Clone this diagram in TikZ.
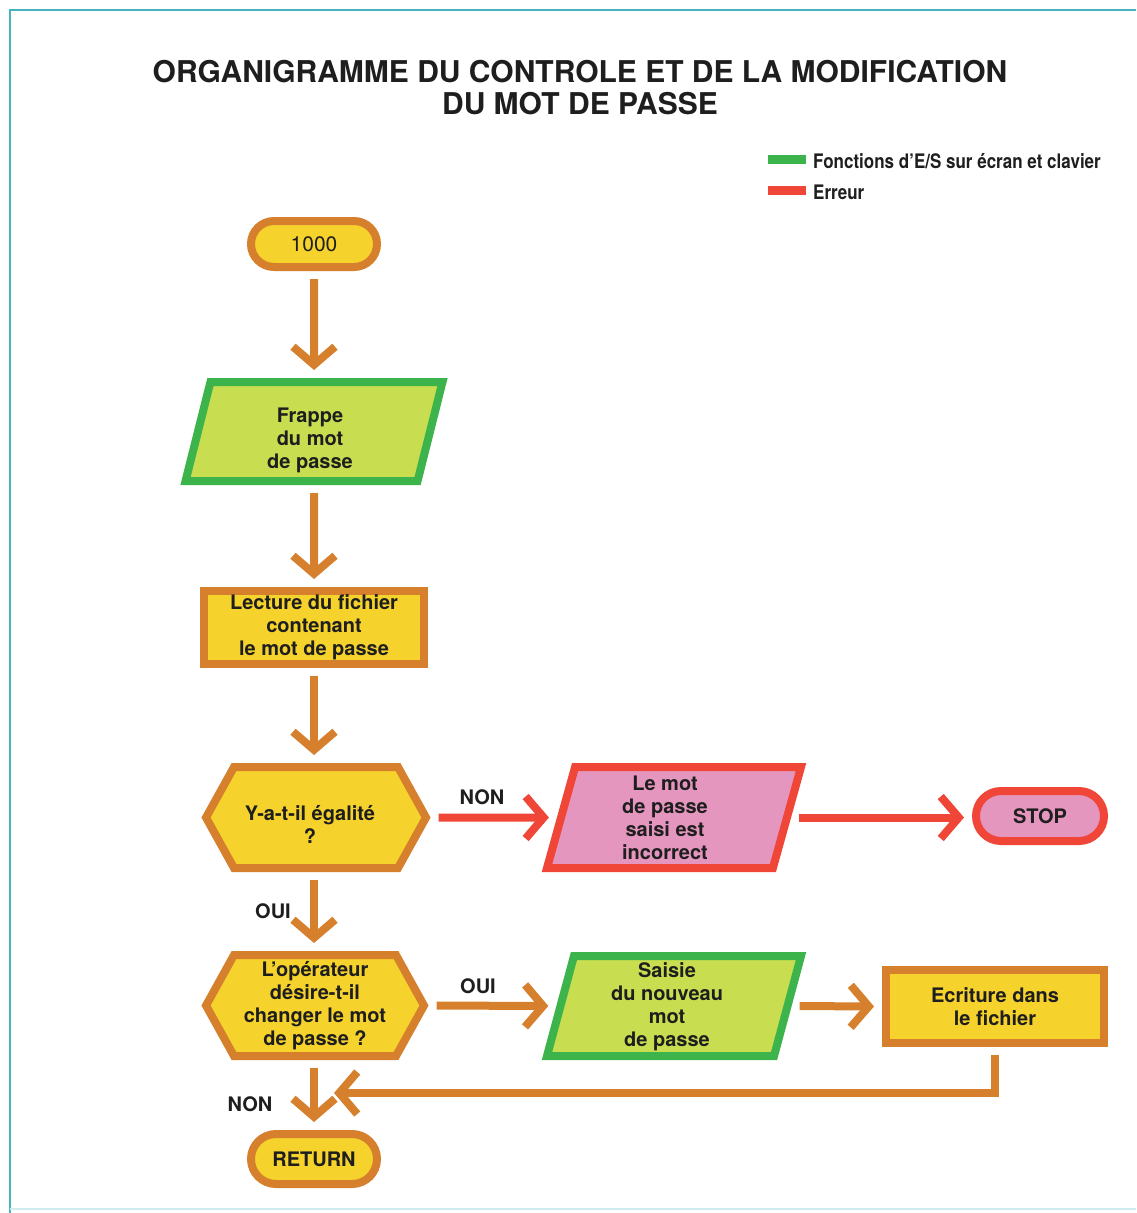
\documentclass[tikz,border=0pt]{standalone}
\usepackage{fontspec}
\setmainfont{TeX Gyre Heros}
\usetikzlibrary{shapes.geometric,shapes.misc,shapes.symbols,arrows.meta}
\definecolor{borange}{HTML}{D6802E}
\definecolor{byellow}{HTML}{F5D22C}
\definecolor{bgreen}{HTML}{3CB44B}
\definecolor{lgreen}{HTML}{C8DE50}
\definecolor{bred}{HTML}{F04637}
\definecolor{bpink}{HTML}{E496BE}
\definecolor{teal}{HTML}{46B4BE}
\definecolor{ink}{HTML}{1E1E1E}
% shift the text block: #1 = twice the horizontal shift, #2 = twice the downward shift
\newcommand\shiftbox[3]{\hspace*{#1}\raisebox{0pt}[\dimexpr\height+#2\relax]{\begin{tabular}{@{}c@{}}#3\end{tabular}}}
\tikzset{
  txt/.style={font=\fontsize{20}{23}\selectfont\bfseries, align=center, text=ink},
  term/.style={rounded rectangle, draw=borange, fill=byellow, line width=8pt, inner sep=0pt, txt},
  proc/.style={rectangle, draw=borange, fill=byellow, line width=8pt, inner sep=0pt, txt},
  iobox/.style={trapezium, trapezium left angle=74, trapezium right angle=106, trapezium stretches body,
    draw=bgreen, fill=lgreen, line width=8pt, inner sep=0pt, txt},
  decision/.style={signal, signal to=east and west, signal pointer angle=122,
    draw=borange, fill=byellow, line width=8pt, inner sep=0pt, txt},
  flow/.style={draw=borange, line width=8pt, shorten <=8pt, shorten >=8pt, -{Straight Barb[length=18pt,width=42pt]}},
  redflow/.style={flow, draw=bred},
  lbl/.style={font=\fontsize{20}{23}\selectfont\bfseries, text=ink},
  legtxt/.style={anchor=west, font=\fontsize{20}{22}\selectfont\bfseries, text=ink, inner sep=0pt},
}
\begin{document}
\begin{tikzpicture}[x=1pt,y=-1pt]
\useasboundingbox (0,0) rectangle (1136,1213);
\fill[white] (0,0) rectangle (1136,1213);
% frame
\draw[teal, line width=2pt] (10,1213) -- (10,10) -- (1136,10);
\draw[teal!25, line width=1.5pt] (10,1209) -- (1136,1209);
% title
\node[font=\fontsize{30}{32}\selectfont\bfseries, align=center, text=ink] (title) at (580,88)
  {ORGANIGRAMME DU CONTROLE ET DE LA MODIFICATION\\DU MOT DE PASSE};
% legend
\fill[bgreen] (768,155) rectangle (806,164);
\fill[bred] (768,186) rectangle (806,195);
\node[legtxt] (leg1) at (813,161) {\scalebox{0.85}[1]{Fonctions d’E/S sur écran et clavier}};
\node[legtxt] (leg2) at (813,192) {\scalebox{0.85}[1]{Erreur}};
% nodes
\node[term, minimum width=126pt, minimum height=46pt, font=\fontsize{21}{23}\selectfont] (start) at (314,244) {1000};
\node[iobox, minimum width=257pt, minimum height=99pt] (frappe) at (314,431.5)
  {\shiftbox{-8pt}{18pt}{Frappe\\du mot\\de passe}};
\node[proc, minimum width=220pt, minimum height=73pt] (lecture) at (314,627.5) {Lecture du fichier\\contenant\\le mot de passe};
\node[decision, minimum width=220pt, minimum height=101pt] (egal) at (316,817.5)
  {\shiftbox{-12pt}{20pt}{Y-a-t-il égalité\\?}};
\node[iobox, draw=bred, fill=bpink, minimum width=254pt, minimum height=101pt] (err) at (674,817.5)
  {\shiftbox{-18pt}{6pt}{Le mot\\de passe\\saisi est\\incorrect}};
\node[term, draw=bred, fill=bpink, minimum width=128pt, minimum height=50pt] (stop) at (1040,816) {STOP};
\node[decision, minimum width=218pt, minimum height=101pt] (chg) at (315,1005.5) {L’opérateur\\désire-t-il\\changer le mot\\de passe ?};
\node[iobox, minimum width=254pt, minimum height=100pt] (saisie) at (674,1006)
  {\shiftbox{-14pt}{2pt}{Saisie\\du nouveau\\mot\\de passe}};
\node[proc, minimum width=218pt, minimum height=73pt] (ecr) at (995,1006.5) {Ecriture dans\\le fichier};
\node[term, minimum width=126pt, minimum height=50pt] (ret) at (314,1159) {RETURN};
\coordinate (loopend) at (334,1093);
% connectors
\draw[flow] (start.south) -- (frappe.north);
\draw[flow] (frappe.south) -- (lecture.north);
\draw[flow] (lecture.south) -- (lecture.south |- egal.north);
\draw[redflow] (egal.east) -- (err.west);
\draw[redflow] (err.east) -- (stop.west |- err.east);
\draw[flow] (egal.south -| lecture.south) -- (lecture.south |- chg.north);
\draw[flow] (chg.east) -- (saisie.west);
\draw[flow] (saisie.east) -- (ecr.west);
\draw[flow, shorten >=0pt] (ecr.south) |- (loopend);
\draw[flow] (chg.south -| lecture.south) -- (ret.north);
% labels
\node[lbl] (non1) at (482,797) {NON};
\node[lbl] (oui1) at (273,911) {OUI};
\node[lbl] (oui2) at (478,986) {OUI};
\node[lbl] (non2) at (250,1104) {NON};
\end{tikzpicture}
\end{document}
